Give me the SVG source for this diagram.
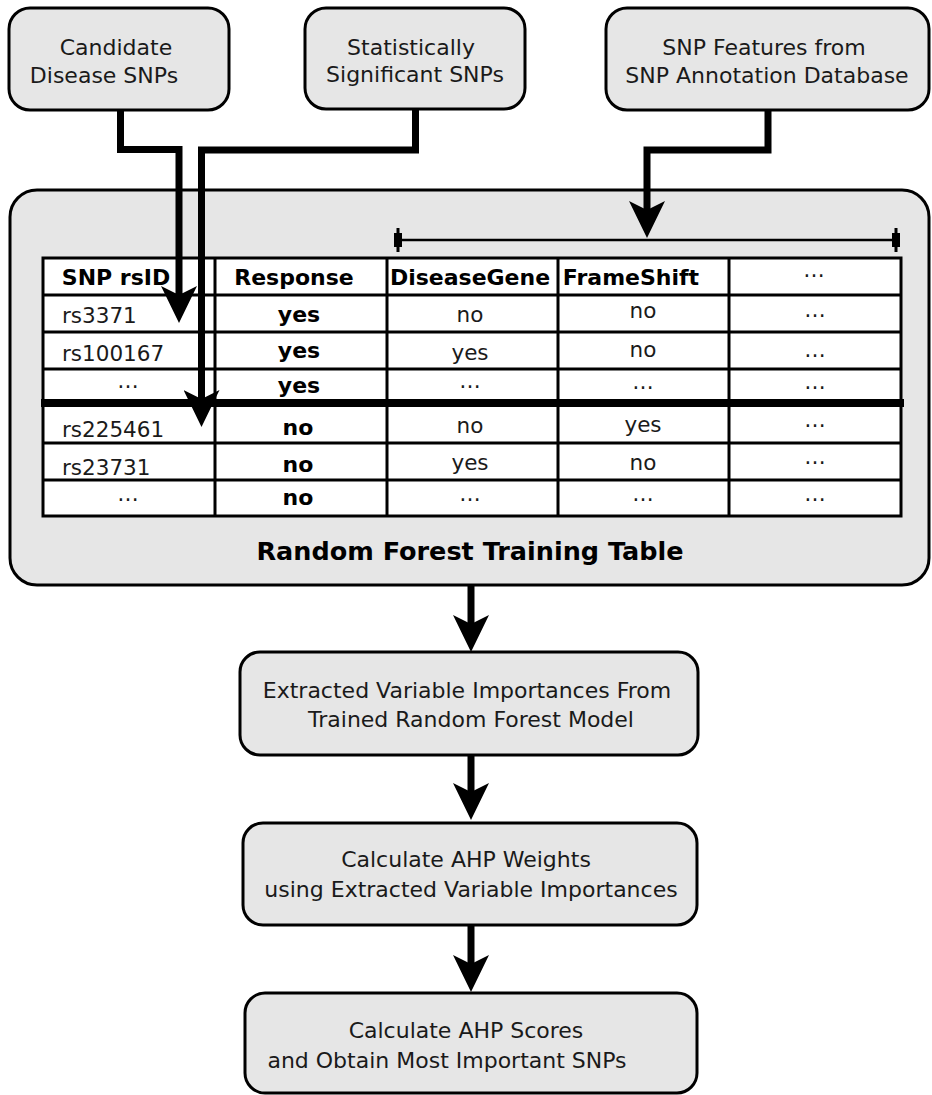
<svg xmlns="http://www.w3.org/2000/svg" width="932" height="1095" viewBox="0 0 932 1095">
<defs>
<style>
.box{fill:#e6e6e6;stroke:#000;stroke-width:3}
.t{font-family:"DejaVu Sans","Liberation Sans",sans-serif;font-size:22px;fill:#1a1a1a;text-anchor:middle}
.tl{font-family:"DejaVu Sans","Liberation Sans",sans-serif;font-size:21.5px;fill:#1a1a1a}
.c{font-family:"DejaVu Sans","Liberation Sans",sans-serif;font-size:21.5px;fill:#1a1a1a;text-anchor:middle}
.b{font-family:"DejaVu Sans","Liberation Sans",sans-serif;font-size:22px;font-weight:bold;fill:#000;text-anchor:middle}
.grid{stroke:#000;stroke-width:3;fill:none}
.conn{fill:none;stroke:#000;stroke-width:7;stroke-linejoin:miter;stroke-linecap:butt}
</style>
<marker id="ah" viewBox="0 -18 37 36" refX="9" refY="0" markerWidth="37" markerHeight="36" markerUnits="userSpaceOnUse" orient="auto">
<path d="M0,-18 L37,0 L0,18 L9,0 Z" fill="#000"/>
</marker>
</defs>

<g id="node-candidate">
<rect class="box" x="9" y="8" width="220" height="102" rx="21"/>
<text class="t" x="116" y="55">Candidate</text>
<text class="t" x="104" y="83">Disease SNPs</text>
</g>
<g id="node-significant">
<rect class="box" x="305" y="8" width="220" height="101" rx="21"/>
<text class="t" x="411" y="55">Statistically</text>
<text class="t" x="415" y="82">Significant SNPs</text>
</g>
<g id="node-features">
<rect class="box" x="606" y="8" width="323" height="102" rx="21"/>
<text class="t" x="764" y="55">SNP Features from</text>
<text class="t" x="767" y="83">SNP Annotation Database</text>
</g>

<g id="node-training-table">
<rect class="box" x="10" y="190" width="919" height="395" rx="27"/>
<g id="bracket">
<line x1="398" y1="240" x2="896" y2="240" stroke="#000" stroke-width="2.5"/>
<rect x="394" y="233" width="8" height="14" fill="#000"/>
<line x1="398" y1="228" x2="398" y2="252" stroke="#000" stroke-width="3"/>
<rect x="892" y="233" width="8" height="14" fill="#000"/>
<line x1="896" y1="228" x2="896" y2="252" stroke="#000" stroke-width="3"/>
</g>
<rect x="43" y="258" width="858" height="258" fill="#fff" stroke="#000" stroke-width="3"/>
<path class="grid" d="M43,295H901M43,332H901M43,369H901M43,443H901M43,480H901M215,258V516M387,258V516M558,258V516M729,258V516"/>
<line x1="41" y1="403" x2="904" y2="403" stroke="#000" stroke-width="8"/>
<text class="b" x="116" y="285">SNP rsID</text>
<text class="b" x="294" y="285">Response</text>
<text class="b" x="470" y="285">DiseaseGene</text>
<text class="b" x="631" y="285">FrameShift</text>
<text class="c" x="814" y="277">…</text>

<text class="tl" x="62" y="323">rs3371</text>
<text class="b" x="299" y="322">yes</text>
<text class="c" x="470" y="322">no</text>
<text class="c" x="643" y="318">no</text>
<text class="c" x="815" y="317">…</text>

<text class="tl" x="62" y="361">rs100167</text>
<text class="b" x="299" y="358">yes</text>
<text class="c" x="470" y="360">yes</text>
<text class="c" x="643" y="357">no</text>
<text class="c" x="815" y="357">…</text>

<text class="c" x="128" y="388">…</text>
<text class="b" x="299" y="393">yes</text>
<text class="c" x="470" y="388">…</text>
<text class="c" x="643" y="389">…</text>
<text class="c" x="815" y="389">…</text>

<text class="tl" x="62" y="437">rs225461</text>
<text class="b" x="298" y="435">no</text>
<text class="c" x="470" y="433">no</text>
<text class="c" x="643" y="432">yes</text>
<text class="c" x="815" y="427">…</text>

<text class="tl" x="62" y="475">rs23731</text>
<text class="b" x="298" y="472">no</text>
<text class="c" x="470" y="470">yes</text>
<text class="c" x="643" y="470">no</text>
<text class="c" x="815" y="464">…</text>

<text class="c" x="128" y="501">…</text>
<text class="b" x="298" y="505">no</text>
<text class="c" x="470" y="501">…</text>
<text class="c" x="643" y="501">…</text>
<text class="c" x="815" y="501">…</text>

<text class="b" x="470" y="560" style="font-size:25.5px">Random Forest Training Table</text>
</g>

<g id="node-importances">
<rect class="box" x="240" y="652" width="458" height="103" rx="20"/>
<text class="t" x="467" y="698">Extracted Variable Importances From</text>
<text class="t" x="471" y="727">Trained Random Forest Model</text>
</g>
<g id="node-weights">
<rect class="box" x="243" y="823" width="454" height="102" rx="20"/>
<text class="t" x="466" y="867">Calculate AHP Weights</text>
<text class="t" x="471" y="897">using Extracted Variable Importances</text>
</g>
<g id="node-scores">
<rect class="box" x="245" y="993" width="452" height="100" rx="20"/>
<text class="t" x="466" y="1038">Calculate AHP Scores</text>
<text class="t" x="447" y="1068">and Obtain Most Important SNPs</text>
</g>

<g id="connectors">
<path class="conn" d="M120.5,110V149.5H179V295" marker-end="url(#ah)"/>
<path class="conn" d="M415.5,109V150H201.5V399" marker-end="url(#ah)"/>
<path class="conn" d="M768,110V150H647V210" marker-end="url(#ah)"/>
<path class="conn" d="M471,585V624" marker-end="url(#ah)"/>
<path class="conn" d="M471,755V792" marker-end="url(#ah)"/>
<path class="conn" d="M471,925V964" marker-end="url(#ah)"/>
</g>
</svg>
